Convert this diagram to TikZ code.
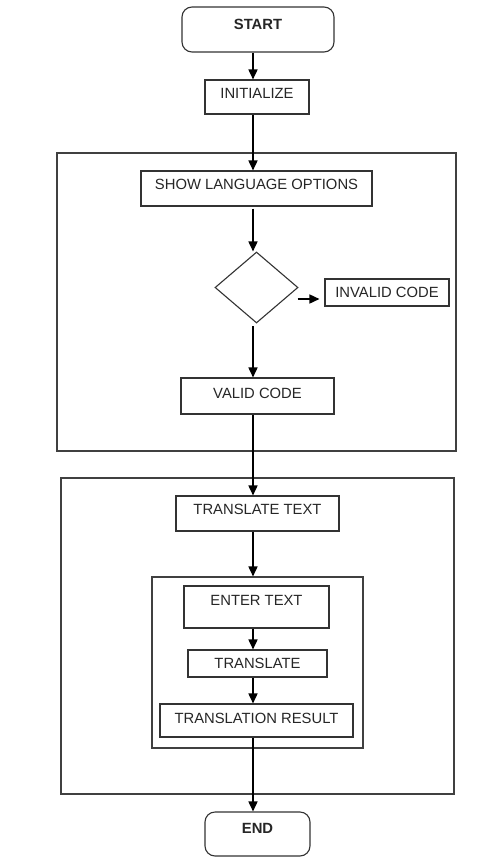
\documentclass[tikz,border=0pt]{standalone}
\usepackage{fontspec}
\setmainfont{Liberation Sans}
\usetikzlibrary{arrows.meta,shapes.geometric,calc}
\begin{document}
\begin{tikzpicture}[x=1pt,y=-1pt,
  box/.style={draw=black!80,line width=1.1pt,fill=white,inner sep=0pt,text=black!85,font=\fontsize{14.8}{17}\selectfont},
  term/.style={box,rounded corners=10pt,font=\fontsize{14.8}{17}\selectfont\bfseries},
  frame/.style={draw=black!75,line width=1.3pt,inner sep=0pt},
  tx/.style={text height=10.6pt,text depth=#1},
  arr/.style={line width=1.6pt,-{Triangle[length=10pt,width=9pt]}},
]
\useasboundingbox (0,0) rectangle (489,868);
\fill[white] (0,0) rectangle (489,868);
\coordinate (ax) at (253,0);
% frames
\node[frame,minimum width=399pt,minimum height=298pt] (frameA) at (256.5,302) {};
\node[frame,minimum width=393pt,minimum height=316pt] (frameB) at (257.5,636) {};
\node[frame,line width=1.1pt,minimum width=211pt,minimum height=171pt] (inner) at (257.5,662.5) {};
% nodes
\node[term,minimum width=152pt,minimum height=45pt,tx=11pt] (start) at (258,29.5) {START};
\node[box,minimum width=104pt,minimum height=34pt,tx=7.4pt] (init) at (257,97) {INITIALIZE};
\node[box,minimum width=231pt,minimum height=35pt,tx=9pt] (show) at (256.5,188.5) {SHOW LANGUAGE OPTIONS};
\node[box,diamond,minimum width=83pt,minimum height=71pt] (dec) at (256.5,287.5) {};
\node[box,minimum width=124pt,minimum height=27pt,tx=0pt] (invalid) at (387,292.5) {INVALID CODE};
\node[box,minimum width=153pt,minimum height=36pt,tx=6pt] (valid) at (257.5,396) {VALID CODE};
\node[box,minimum width=163pt,minimum height=35pt,tx=9pt] (ttext) at (257.5,513.5) {TRANSLATE TEXT};
\node[box,minimum width=145pt,minimum height=42pt,tx=14pt] (enter) at (256.5,607) {ENTER TEXT};
\node[box,minimum width=139pt,minimum height=27pt,tx=1pt] (transl) at (257.5,663.5) {TRANSLATE};
\node[box,minimum width=193pt,minimum height=33pt,tx=5pt] (result) at (256.5,720.5) {TRANSLATION RESULT};
\node[term,minimum width=105pt,minimum height=44pt,tx=12pt] (end) at (257.5,834) {END};
% connectors
\draw[arr] (start.south -| ax) -- (init.north -| ax);
\draw[arr] (init.south -| ax) -- (show.north -| ax);
\draw[arr] ($(show.south -| ax)+(0,2)$) -- (dec.north -| ax);
\draw[arr] ($(dec.east)+(-1,11.5)$) -- ($(invalid.west)+(-5,6.5)$);
\draw[arr] ($(dec.south -| ax)+(0,2.5)$) -- (valid.north -| ax);
\draw[arr] (valid.south -| ax) -- (ttext.north -| ax);
\draw[arr] (ttext.south -| ax) -- (inner.north -| ax);
\draw[arr] (enter.south -| ax) -- (transl.north -| ax);
\draw[arr] (transl.south -| ax) -- (result.north -| ax);
\draw[arr] (result.south -| ax) -- (end.north -| ax);
\end{tikzpicture}
\end{document}
